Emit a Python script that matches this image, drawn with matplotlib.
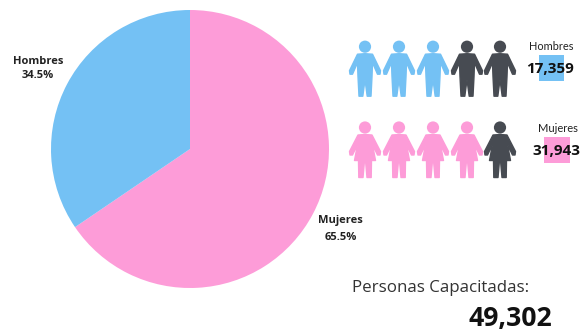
import matplotlib
matplotlib.use("Agg")
import matplotlib.pyplot as plt
import matplotlib.patches as patches

W,H=582,334

groups=["Mujeres","Hombres"]
shares=[65.5,34.5]
share_labels=["65.5%","34.5%"]
totals=["31,943","17,359"]
grand_total="49,302"
icons_filled=[4,3]
icons_all=5

PINK="#fd9cd8"
BLUE="#74c1f4"
DARK="#474b52"
INK="#111111"

plt.rcParams['font.family']=['Open Sans','DejaVu Sans']

# right half of each figure, offsets from the centre of the head
MAN_R=[(0,7),(7.5,7.5),(15.5,24),(15,27.5),(12.5,27.5),(7.5,16),(7,30),(6,49.5),(2.2,49.5),(0,33)]
WOMAN_R=[(0,7),(7,7.5),(15.5,24),(15,27.5),(12.5,27.5),(7.5,17),(10.5,33),(6.5,33),(6.2,50),(2,50),(0.5,33)]

def mirror(half):
    return half+[(-x,y) for x,y in reversed(half) if x!=0]

def draw_person(ax,cx,cy,shape,color):
    # cy is the centre of the head
    ax.add_patch(patches.Circle((cx,cy),6.1,fc=color,ec="none"))
    pts=[(cx+p[0],cy+p[1]) for p in mirror(shape)]
    ax.add_patch(patches.Polygon(pts,closed=True,fc=color,ec=color,lw=1.0,joinstyle="round"))

fig=plt.figure(figsize=(W/100,H/100),dpi=100,facecolor="white")

# pie, placed by pixel box
cx,cy,r=190,149,139
pie_ax=fig.add_axes([(cx-r)/W,1-(cy+r)/H,2*r/W,2*r/H])
pie_ax.pie(shares,colors=[PINK,BLUE],startangle=90,counterclock=False,radius=1)
pie_ax.set_xlim(-1,1)
pie_ax.set_ylim(-1,1)
pie_ax.axis("off")

# everything else in pixel coordinates
ax=fig.add_axes([0,0,1,1],facecolor="none")
ax.set_xlim(0,W)
ax.set_ylim(H,0)
ax.axis("off")

lab=dict(ha="center",va="center",fontsize=8,fontweight="bold",color="#222222")
ax.text(340,220,groups[0],**lab)
ax.text(341,237,share_labels[0],**lab)
ax.text(38,62,groups[1],**lab)
ax.text(38,76,share_labels[1],**lab)

xs=[365,399,433,467,500]
for i in range(icons_all):
    draw_person(ax,xs[i],46.7,MAN_R,BLUE if i<icons_filled[1] else DARK)
    draw_person(ax,xs[i],127.5,WOMAN_R,PINK if i<icons_filled[0] else DARK)

ax.add_patch(patches.Rectangle((539,55),25,26,fc=BLUE,ec="none"))
ax.add_patch(patches.Rectangle((544,137),26,26,fc=PINK,ec="none"))

ax.text(551.5,46.5,groups[1],ha="center",va="center",fontsize=7.9,family=['Lato','DejaVu Sans'],color="#222222")
ax.text(557.5,128.5,groups[0],ha="center",va="center",fontsize=8,family=['Lato','DejaVu Sans'],color="#222222")
ax.text(550,69,totals[1],ha="center",va="center",fontsize=11,fontweight="bold",color=INK)
ax.text(556,151,totals[0],ha="center",va="center",fontsize=11,fontweight="bold",color=INK)

ax.text(352,288,"Personas Capacitadas:",ha="left",va="center",fontsize=12.2,color="#333333")
ax.text(510,319,grand_total,ha="center",va="center",fontsize=19.2,fontweight="bold",color=INK)

fig.savefig("out.png",dpi=100)
